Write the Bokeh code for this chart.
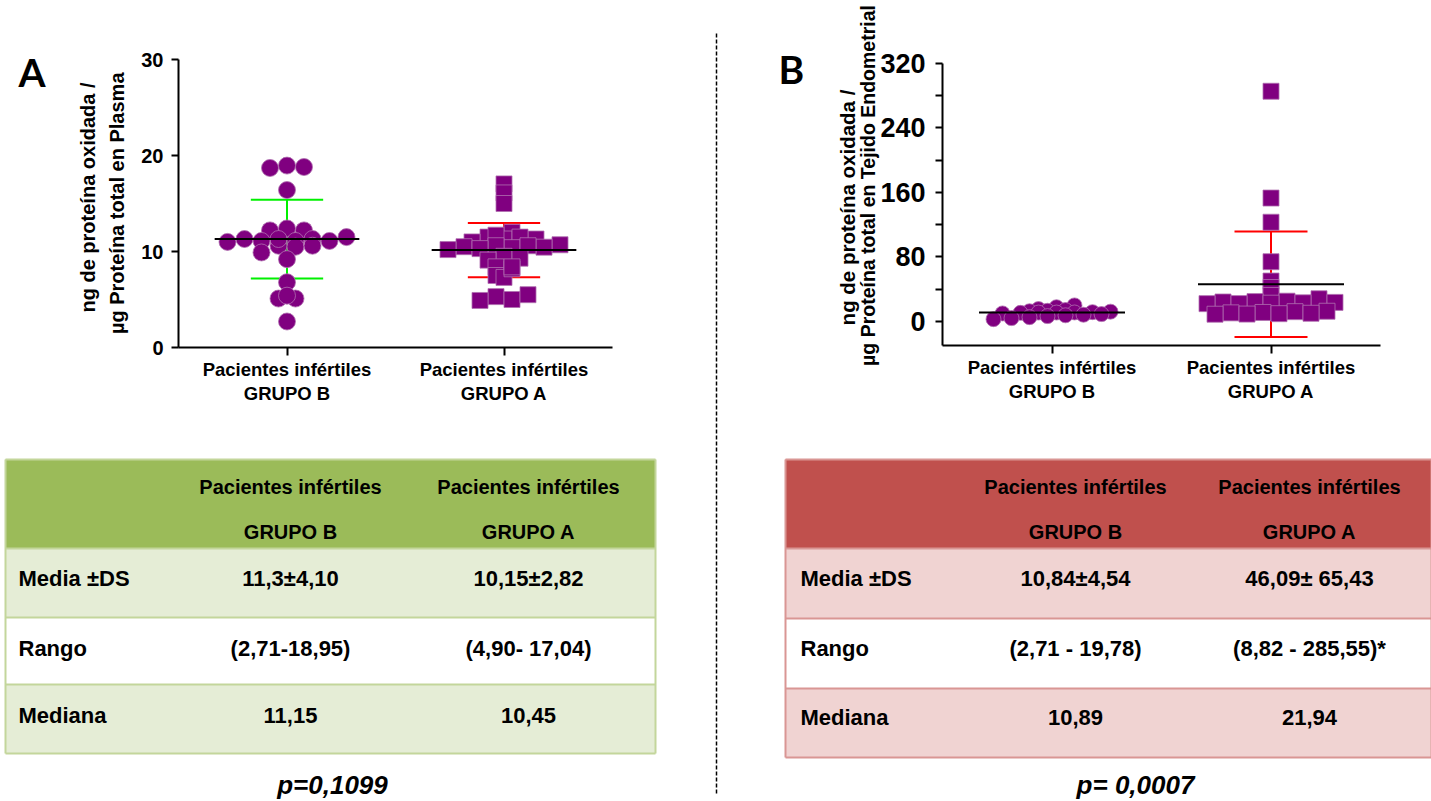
import numpy as np
from bokeh.plotting import figure
from bokeh.layouts import row, column
from bokeh.models import Range1d, FixedTicker, Label, ColumnDataSource
from bokeh.embed import file_html
from bokeh.resources import INLINE
from bokeh.core.properties import value

# ---------------- data ----------------
categories = ["Pacientes infértiles\nGRUPO B", "Pacientes infértiles\nGRUPO A"]

plasma_grupo_b = [18.95, 18.70, 18.80, 16.40, 12.20, 12.40, 12.20, 11.00, 11.30,
                  10.60, 11.30, 11.50, 11.10, 11.10, 10.50, 11.30, 10.60, 11.10,
                  9.90, 9.20, 6.80, 5.10, 5.10, 5.40, 2.71]
plasma_grupo_a = [17.04, 16.10, 15.00, 12.00, 11.50, 11.30, 11.30, 11.50, 11.70,
                  11.00, 10.70, 10.50, 10.40, 10.20, 10.60, 10.30, 10.45, 10.60,
                  9.50, 9.10, 9.30, 8.40, 7.50, 7.30, 8.20, 8.40, 5.30, 4.90,
                  5.00, 5.50]
endo_grupo_b = [19.78, 17.50, 15.20, 14.00, 13.10, 12.50, 12.00, 11.40, 11.00,
                10.90, 10.89, 10.50, 9.80, 9.00, 8.20, 7.50, 6.50, 5.20, 4.00, 2.71]
endo_grupo_a = [285.55, 153.00, 123.00, 74.00, 50.00, 42.00, 32.00, 28.00,
                25.00, 24.50, 24.00, 23.50, 23.00, 22.50, 22.00, 21.94,
                12.50, 12.00, 11.00, 10.50, 10.00, 9.50, 9.00, 8.82]

plasma_mean = [11.30, 10.15]
plasma_sd = [4.10, 2.82]
endo_mean = [10.84, 46.09]
endo_sd = [4.54, 65.43]

plasma_yticks = [0, 10, 20, 30]
endo_yticks = [0, 40, 80, 120, 160, 200, 240, 280, 320]
endo_ytick_labels = ["0", "", "80", "", "160", "", "240", "", "320"]
ylabel_plasma = ["ng de proteína oxidada /", "µg Proteína total en  Plasma"]
ylabel_endo = ["ng de proteína oxidada /", "µg Proteína total en Tejido Endometrial"]

table_header = ["Pacientes infértiles", "Pacientes infértiles"]
table_groups = ["GRUPO B", "GRUPO A"]
row_labels = ["Media ±DS", "Rango", "Mediana"]
tabla_a_grupo_b = ["11,3±4,10", "(2,71-18,95)", "11,15"]
tabla_a_grupo_a = ["10,15±2,82", "(4,90- 17,04)", "10,45"]
tabla_b_grupo_b = ["10,84±4,54", "(2,71 - 19,78)", "10,89"]
tabla_b_grupo_a = ["46,09± 65,43", "(8,82 - 285,55)*", "21,94"]
p_values = ["p=0,1099", "p= 0,0007"]
panel_letters = ["A", "B"]

# ---------------- styles ----------------
PURPLE = "#800080"
EDGE = "#B070B0"
BAR_COLORS = ["#00F000", "#FF0000"]
FONT = "Liberation Sans"
LETTER_FONT = "Lato"


def swarm_offsets(vals, px_per_x, px_per_y, diam, spacing_frac=1.0):
    """Column-scatter layout: points binned by height, each bin spread side by side."""
    vals = np.asarray(vals, dtype=float)
    binh = diam / 2.0 / px_per_y
    idx = np.floor((vals - vals.min()) / binh + 1e-9).astype(int)
    offs = np.zeros(len(vals))
    for b in np.unique(idx):
        members = np.where(idx == b)[0]
        members = members[np.argsort(vals[members])]
        n = len(members)
        half = (n + 1) // 2
        lo, hi = list(members[:half]), list(members[half:])
        seq = []
        for k in range(n):
            seq.append(lo.pop(0) if k % 2 == 0 else hi.pop(0))
        for k, m in enumerate(seq):
            offs[m] = (k - (n - 1) / 2) * diam * spacing_frac / px_per_x
    return offs


def scatter_panel(vals_b, vals_a, means, sds, y0, y1, yticks, ytick_labels,
                  ylabels, letter, W, H, ax_left, ax_right, ax_top, ax_bottom,
                  sizes, spacing, tick_font, tick_standoff, ylab_fonts, ylab_pos,
                  letter_pos):
    x0, x1 = 0.0, 2.0
    sx = (ax_right - ax_left) / (x1 - x0)
    sy = (ax_bottom - ax_top) / (y1 - y0)
    xr = Range1d(x0 - ax_left / sx, x1 + (W - ax_right) / sx)
    yr = Range1d(y0 - (H - ax_bottom) / sy, y1 + ax_top / sy)
    p = figure(width=W, height=H, x_range=xr, y_range=yr,
               output_backend="svg", toolbar_location=None, min_border=0)
    p.xgrid.visible = False
    p.ygrid.visible = False
    p.outline_line_color = None
    p.background_fill_color = "white"
    p.border_fill_color = "white"
    centers = [0.5, 1.5]

    # error bars (mean ± SD) below the points
    for c, m, s, col in zip(centers, means, sds, BAR_COLORS):
        p.segment(x0=[c, c - 1 / 6, c - 1 / 6], y0=[m - s, m + s, m - s],
                  x1=[c, c + 1 / 6, c + 1 / 6], y1=[m + s, m + s, m - s],
                  line_color=col, line_width=2)

    # points
    ob = swarm_offsets(vals_b, sx, sy, sizes[0], spacing[0])
    oa = swarm_offsets(vals_a, sx, sy, sizes[1], spacing[1])
    src_b = ColumnDataSource(dict(x=centers[0] + ob, y=vals_b))
    src_a = ColumnDataSource(dict(x=centers[1] + oa, y=vals_a))
    p.scatter("x", "y", source=src_b, marker="circle", size=sizes[0],
              fill_color=PURPLE, line_color=EDGE, line_width=0.8)
    p.scatter("x", "y", source=src_a, marker="square", size=sizes[1],
              fill_color=PURPLE, line_color=EDGE, line_width=0.8)

    # mean lines on top
    p.segment(x0=[c - 1 / 3 for c in centers], y0=means,
              x1=[c + 1 / 3 for c in centers], y1=means,
              line_color="black", line_width=2)

    # axis lines (limited to the data box)
    p.segment(x0=[x0, x0], y0=[y0, y0], x1=[x1, x0], y1=[y0, y1],
              line_color="black", line_width=2)

    # axes placed at fixed locations
    p.xaxis.fixed_location = y0
    p.yaxis.fixed_location = x0
    p.xaxis.ticker = FixedTicker(ticks=centers)
    p.xaxis.major_label_overrides = {centers[0]: categories[0], centers[1]: categories[1]}
    p.yaxis.ticker = FixedTicker(ticks=yticks)
    p.yaxis.major_label_overrides = {t: l for t, l in zip(yticks, ytick_labels)}
    for ax in (p.xaxis[0], p.yaxis[0]):
        ax.axis_line_color = None
        ax.major_tick_line_width = 2
        ax.major_tick_line_color = "black"
        ax.major_tick_in = 0
        ax.minor_tick_in = 0
        ax.minor_tick_out = 0
        ax.major_label_text_font = FONT
        ax.major_label_text_font_style = "bold"
        ax.major_label_text_color = "black"
    p.xaxis.major_tick_out = 8
    p.yaxis.major_tick_out = 7
    p.xaxis.major_label_text_font_size = "18.5px"
    p.xaxis.major_label_text_line_height = 1.15
    p.xaxis.major_label_standoff = 3
    p.yaxis.major_label_text_font_size = tick_font
    p.yaxis.major_label_standoff = tick_standoff

    # y-axis title (two lines, rotated); screen units from bottom-left
    for txt, fs, (fx, fy) in zip(ylabels, ylab_fonts, ylab_pos):
        p.add_layout(Label(x=fx, y=H - fy, x_units="screen", y_units="screen", text=txt,
                           angle=np.pi / 2, text_align="center", text_baseline="middle",
                           text_font=FONT, text_font_style="bold",
                           text_font_size=fs, text_color="black"))
    # panel letter
    p.add_layout(Label(x=letter_pos[0], y=H - letter_pos[1], x_units="screen",
                       y_units="screen", text=letter, text_align="left",
                       text_baseline="middle", text_font=LETTER_FONT,
                       text_font_style="bold", text_font_size="39px", text_color="black"))
    return p


def table_panel(W, H, x_left, x_right, ys, col_centers, label_x, header_ys, row_ys,
                head_color, light_color, line_color, vals_b, vals_a, ptext, p_x, p_y):
    t = figure(width=W, height=H, x_range=Range1d(0, W), y_range=Range1d(H, 0),
               output_backend="svg", toolbar_location=None,
               x_axis_type=None, y_axis_type=None, min_border=0)
    t.xgrid.visible = False
    t.ygrid.visible = False
    t.outline_line_color = None
    fills = [head_color, light_color, "white", light_color]
    t.quad(left=[x_left] * 4, right=[x_right] * 4, top=ys[:-1], bottom=ys[1:],
           fill_color=fills, line_color=None)
    t.segment(x0=[x_left] * len(ys), x1=[x_right] * len(ys), y0=ys, y1=ys,
              line_color=line_color, line_width=2)
    t.segment(x0=[x_left, x_right], x1=[x_left, x_right], y0=[ys[0]] * 2, y1=[ys[-1]] * 2,
              line_color=line_color, line_width=2)

    common = dict(text_font=value(FONT), text_font_style="bold", text_color="black",
                  text_baseline="middle")
    t.text(x=col_centers, y=[header_ys[0]] * 2, text=table_header, text_align="center",
           text_font_size="20px", **common)
    t.text(x=col_centers, y=[header_ys[1]] * 2, text=table_groups, text_align="center",
           text_font_size="20px", **common)
    t.text(x=[label_x] * 3, y=row_ys, text=row_labels, text_align="left",
           text_font_size="22px", **common)
    t.text(x=[col_centers[0]] * 3, y=row_ys, text=vals_b, text_align="center",
           text_font_size="22px", **common)
    t.text(x=[col_centers[1]] * 3, y=row_ys, text=vals_a, text_align="center",
           text_font_size="22px", **common)
    t.text(x=[p_x], y=[p_y], text=[ptext], text_align="center", text_baseline="middle",
           text_font=value(FONT), text_font_style="bold italic", text_font_size="26px",
           text_color="black")
    return t


# page layout: left column x 0..708, divider 708..724, right column 724..1431
pA = scatter_panel(plasma_grupo_b, plasma_grupo_a, plasma_mean, plasma_sd, 0, 30,
                   plasma_yticks, [str(v) for v in plasma_yticks], ylabel_plasma,
                   panel_letters[0], 708, 448, 178, 612, 59, 347, (17, 16), (1.0, 1.0),
                   "20px", 8, ("20px", "20px"), [(87.5, 197), (116.5, 200)], (18, 71))
pB = scatter_panel(endo_grupo_b, endo_grupo_a, endo_mean, endo_sd, -30, 320,
                   endo_yticks, endo_ytick_labels, ylabel_endo,
                   panel_letters[1], 707, 448, 218, 656, 63, 345, (15, 16), (0.6, 1.0),
                   "27px", 10, ("20.5px", "19.5px"), [(123, 207), (143, 185)], (54, 68.5))

tA = table_panel(708, 353, 5, 655, [11, 100, 169, 236, 305], [290, 528], 18, [38, 83],
                 [130, 200, 267], "#9BBB59", "#E5EDD6", "#C3D69B",
                 tabla_a_grupo_b, tabla_a_grupo_a, p_values[0], 332, 336)
tB = table_panel(707, 353, 61, 707, [11, 100, 170, 240, 309], [351, 585], 76, [38, 83],
                 [130, 200, 269], "#C0504D", "#F0D3D2", "#D99694",
                 tabla_b_grupo_b, tabla_b_grupo_a, p_values[1], 411, 336)

div = figure(width=16, height=801, x_range=Range1d(0, 16), y_range=Range1d(801, 0),
             output_backend="svg", toolbar_location=None, x_axis_type=None,
             y_axis_type=None, min_border=0)
div.xgrid.visible = False
div.ygrid.visible = False
div.outline_line_color = None
div.segment(x0=[8], x1=[8], y0=[33], y1=[795], line_color="black", line_width=1.5,
            line_dash="4 2")

layout = row(column(pA, tA), div, column(pB, tB))

with open("out.html", "w", encoding="utf-8") as f:
    f.write(file_html(layout, INLINE))
